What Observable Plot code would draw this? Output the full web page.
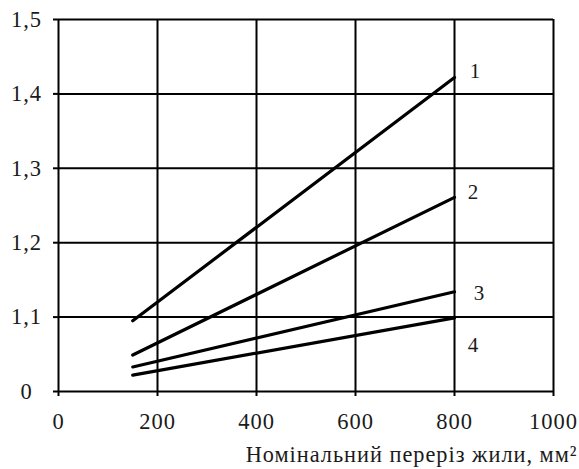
<!DOCTYPE html>
<html>
<head>
<meta charset="utf-8">
<script src="https://cdn.jsdelivr.net/npm/d3@7"></script>
<script src="https://cdn.jsdelivr.net/npm/@observablehq/plot@0.6"></script>
<style>
  html, body { margin: 0; padding: 0; background: #fff; }
  svg { font-family: "Liberation Serif", "DejaVu Serif", serif; }
  svg text { letter-spacing: 1px; }
  svg g[aria-label$="tick label"] text, svg g[aria-label$="tick label"] { font-size: 22.5px; }
</style>
</head>
<body>
<div id="chart"></div>
<script>
// Cross-section (mm²) at which each curve starts and ends
const sections = [150, 800];
const curveNames = ["1", "2", "3", "4"];
const curve1 = [1.095, 1.422];
const curve2 = [1.049, 1.261];
const curve3 = [1.033, 1.134];
const curve4 = [1.022, 1.099];
const xTicks = [0, 200, 400, 600, 800, 1000];
const yTicks = [1.0, 1.1, 1.2, 1.3, 1.4, 1.5];
const yTickLabels = ["0", "1,1", "1,2", "1,3", "1,4", "1,5"];
const xLabel = "Номінальний переріз жили, мм²";

const curves = [curve1, curve2, curve3, curve4];
const rows = curves.flatMap((vals, k) =>
  sections.map((s, i) => ({x: s, y: vals[i], curve: curveNames[k]})));
const ends = curves.map((vals, k) => ({x: sections[sections.length - 1], y: vals[vals.length - 1], curve: curveNames[k]}));

const labelOffsets = [[21, -6], [19, -5], [25, 1], [19, 27]];

const chart = Plot.plot({
  width: 579,
  height: 469,
  marginLeft: 58,
  marginRight: 26,
  marginTop: 19,
  marginBottom: 78,
  style: {fontFamily: "'Liberation Serif', serif", fontSize: "22px", color: "#1a1a1a", background: "#fff"},
  x: {domain: [0, 1000], ticks: xTicks, label: null},
  y: {domain: [1.0, 1.5], ticks: yTicks, label: null},
  marks: [
    Plot.gridX(xTicks, {stroke: "#000", strokeOpacity: 1, strokeWidth: 2}),
    Plot.gridY(yTicks, {stroke: "#000", strokeOpacity: 1, strokeWidth: 2}),
    Plot.axisX(xTicks, {tickSize: 5, tickPadding: 17, stroke: "#000", strokeWidth: 2, fontSize: 22.5, fill: "#1a1a1a",
      tickFormat: d => String(d)}),
    Plot.axisY(yTicks, {tickSize: 5, tickPadding: 27, textAnchor: "middle", stroke: "#000", strokeWidth: 2, fontSize: 22.5, fill: "#1a1a1a",
      tickFormat: (d, i) => yTickLabels[i]}),
    Plot.line(rows, {x: "x", y: "y", z: "curve", stroke: "#000", strokeWidth: 3.2}),
    ...ends.map((e, k) => Plot.text([e], {x: "x", y: "y", text: "curve", dx: labelOffsets[k][0], dy: labelOffsets[k][1], fontSize: 21, fill: "#1a1a1a"})),
    Plot.text([xLabel], {frameAnchor: "bottom-right", textAnchor: "end", dx: 24, dy: 70, fontSize: 22.3, fill: "#1a1a1a"})
  ]
});
document.getElementById("chart").appendChild(chart);
</script>
</body>
</html>
